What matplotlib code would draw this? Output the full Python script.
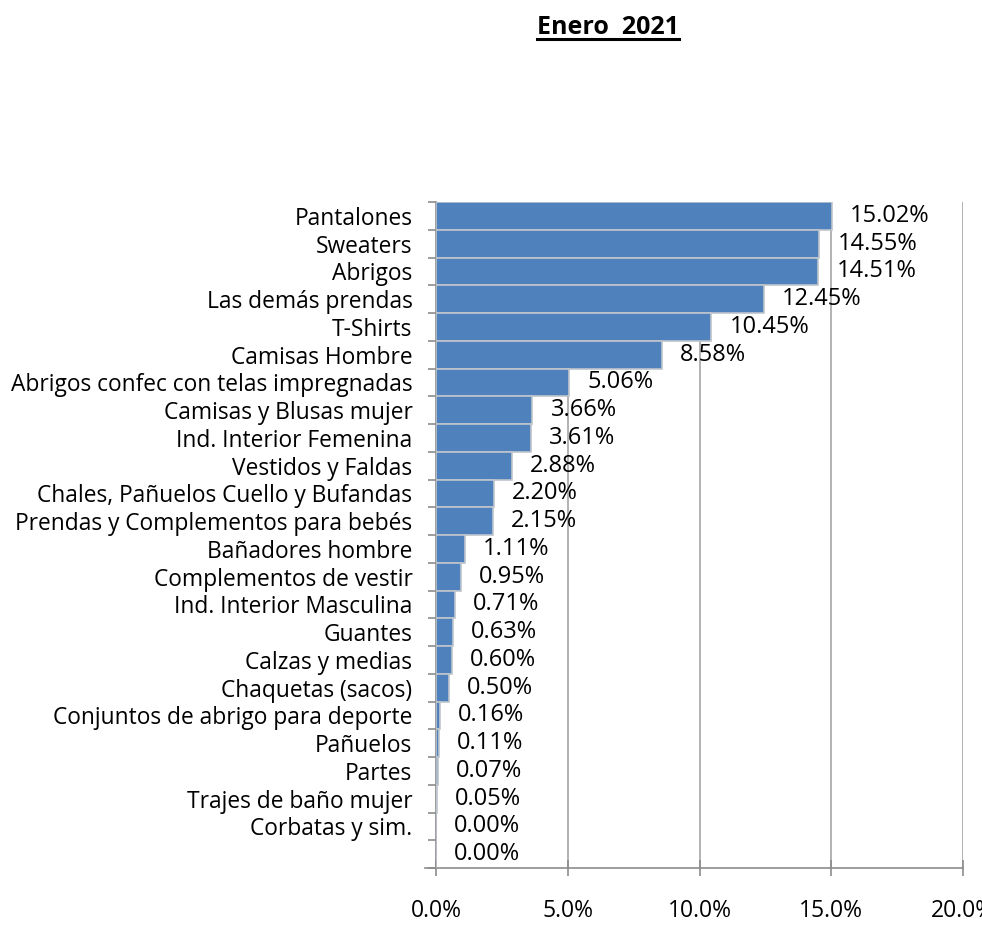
import matplotlib
import numpy as np
import matplotlib.pyplot as plt
from matplotlib.lines import Line2D

font = {'size': 16.4, 'family': ['Open Sans', 'DejaVu Sans']}
matplotlib.rc('font', **font)

categories = ['Pantalones', 'Sweaters', 'Abrigos', 'Las demás prendas', 'T-Shirts',
              'Camisas Hombre', 'Abrigos confec con telas impregnadas',
              'Camisas y Blusas mujer', 'Ind. Interior Femenina', 'Vestidos y Faldas',
              'Chales, Pañuelos Cuello y Bufandas', 'Prendas y Complementos para bebés',
              'Bañadores hombre', 'Complementos de vestir', 'Ind. Interior Masculina',
              'Guantes', 'Calzas y medias', 'Chaquetas (sacos)',
              'Conjuntos de abrigo para deporte', 'Pañuelos', 'Partes',
              'Trajes de baño mujer', 'Corbatas y sim.', '']
values = [15.02, 14.55, 14.51, 12.45, 10.45, 8.58, 5.06, 3.66, 3.61, 2.88, 2.20, 2.15,
          1.11, 0.95, 0.71, 0.63, 0.60, 0.50, 0.16, 0.11, 0.07, 0.05, 0.00, 0.00]
xticks = [0, 5, 10, 15, 20]
xticklabels = ['0.0%', '5.0%', '10.0%', '15.0%', '20.0%']

fig = plt.figure(figsize=(9.82, 9.25), dpi=100)
ax = fig.add_axes([436 / 982, 1 - 868 / 925, (963 - 436) / 982, (868 - 202) / 925])

y = np.arange(len(categories))
ax.barh(y, values, height=1.0, color='#4F81BD', edgecolor='#BFC5CC', linewidth=1.2, zorder=3)

for yi, v in zip(y, values):
    ax.annotate('%.2f%%' % v, (v, yi), xytext=(13, 0), textcoords='offset points',
                ha='left', va='center', fontsize=17, zorder=4)

ax.set_ylim(len(categories) - 0.5, -0.5)
ax.set_xlim(0, 20)
ax.set_yticks(y)
ax.set_yticklabels(categories)
ax.set_yticks(np.arange(len(categories) + 1) - 0.5, minor=True)
ax.tick_params(axis='y', which='major', length=0, pad=17)
ax.tick_params(axis='y', which='minor', length=6, width=1.2, color='#8C8C8C', direction='out')
ax.set_xticks(xticks)
ax.set_xticklabels(xticklabels, fontsize=16.5)
ax.tick_params(axis='x', length=12, width=1.2, color='#8C8C8C', direction='inout', pad=16)

for s in ['top', 'right']:
    ax.spines[s].set_visible(False)
for s in ['left', 'bottom']:
    ax.spines[s].set_color('#8C8C8C')
    ax.spines[s].set_linewidth(1.2)
ax.spines['bottom'].set_bounds(-0.4, 20)

ax.grid(axis='x', color='#A6A6A6', linewidth=1.2, zorder=0)
ax.set_axisbelow(True)

title = fig.text(608 / 982, 1 - 27 / 925, 'Enero  2021', ha='center', va='center',
                 fontsize=18, fontweight='bold')
fig.canvas.draw()
bb = title.get_window_extent()
fig.add_artist(Line2D([bb.x0, bb.x1], [bb.y0 + 1, bb.y0 + 1], color='black',
                      linewidth=2.2, transform=None))

plt.savefig('out.png', dpi=100)
